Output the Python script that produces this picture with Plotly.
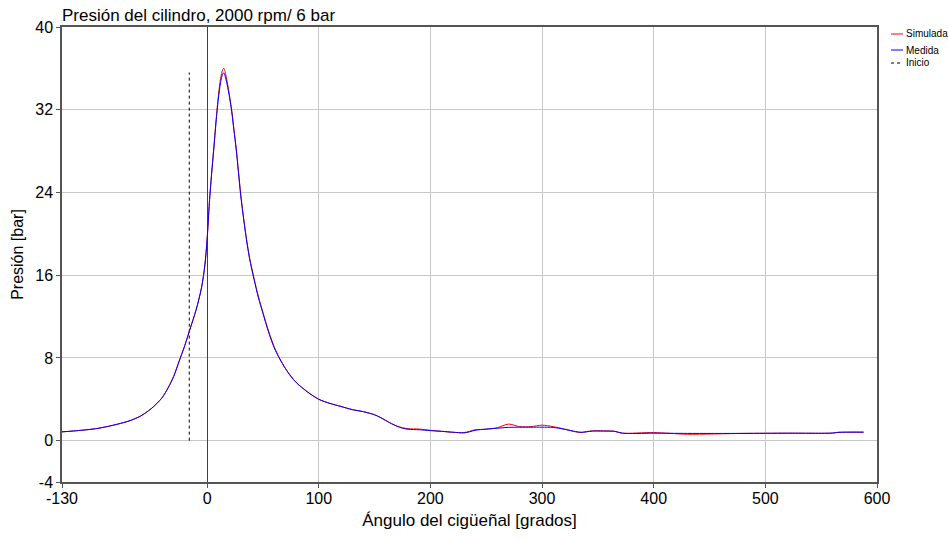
import plotly.graph_objects as go

# ---- data ----
angle = [-130, -120, -110, -100, -90, -80, -70, -60, -55, -50, -45, -40, -35, -30, -25, -20, -15, -10, -5, -2, 0,
         2, 4, 6, 8, 10, 12, 14, 15, 16, 18, 20, 22, 24, 26, 28, 30, 32, 35, 38, 42, 46, 50, 55,
         60, 65, 70, 75, 80, 90, 100, 110, 120, 130, 140, 150, 155, 160, 165, 170, 175, 180, 190,
         200, 210, 220, 230, 235, 240, 250, 260, 270, 280, 290, 300, 310, 320, 330, 335, 345, 355,
         365, 372, 400, 430, 480, 520, 560, 565, 588]

medida = [0.85, 0.93, 1.03, 1.15, 1.35, 1.6, 1.9, 2.35, 2.7, 3.1, 3.6, 4.2, 5.1, 6.2, 7.7, 9.2, 10.9, 12.6, 14.8, 17.0, 19.5,
          23.0, 25.8, 28.2, 30.8, 33.0, 34.6, 35.5, 35.55, 35.3, 34.4, 33.2, 31.8, 30.0, 28.2, 26.0, 23.8, 22.0, 19.6, 17.6, 15.6, 13.8, 12.3, 10.5,
          9.0, 7.9, 7.0, 6.2, 5.6, 4.7, 4.0, 3.6, 3.3, 3.0, 2.8, 2.5, 2.25, 1.95, 1.65, 1.4, 1.2, 1.1, 1.05,
          0.97, 0.9, 0.82, 0.75, 0.85, 1.0, 1.12, 1.2, 1.28, 1.3, 1.3, 1.3, 1.28, 1.1, 0.88, 0.8, 0.92, 0.92,
          0.9, 0.72, 0.72, 0.7, 0.7, 0.72, 0.73, 0.8, 0.82]

simulada = [0.85, 0.93, 1.03, 1.15, 1.35, 1.6, 1.9, 2.35, 2.7, 3.1, 3.6, 4.2, 5.1, 6.2, 7.7, 9.2, 10.9, 12.6, 14.8, 17.0, 19.5,
            23.0, 25.8, 28.4, 31.0, 33.3, 35.0, 35.9, 36.0, 35.7, 34.7, 33.4, 32.0, 30.1, 28.3, 26.1, 23.9, 22.1, 19.7, 17.7, 15.7, 13.9, 12.4, 10.6,
            9.1, 7.95, 7.0, 6.25, 5.6, 4.7, 4.0, 3.6, 3.3, 3.0, 2.8, 2.5, 2.25, 1.95, 1.65, 1.4, 1.25, 1.15, 1.12,
            1.0, 0.9, 0.8, 0.78, 0.9, 1.05, 1.1, 1.25, 1.6, 1.35, 1.35, 1.5, 1.35, 1.12, 0.85, 0.8, 0.95, 0.95,
            0.9, 0.72, 0.78, 0.62, 0.7, 0.72, 0.73, 0.8, 0.82]

inicio_x = [-16, -16]
inicio_y = [0, 35.6]

x_ticks = [-130, 0, 100, 200, 300, 400, 500, 600]
y_ticks = [-4, 0, 8, 16, 24, 32, 40]

FONT = "Liberation Sans, Arial, sans-serif"

fig = go.Figure()
fig.add_trace(go.Scatter(x=inicio_x, y=inicio_y, mode="lines", name="Inicio",
                         line=dict(color="black", width=1, dash="dot"), showlegend=False))
fig.add_trace(go.Scatter(x=angle, y=simulada, mode="lines", name="Simulada",
                         line=dict(color="#ff0000", width=1, shape="spline", smoothing=0.8), showlegend=False))
fig.add_trace(go.Scatter(x=angle, y=medida, mode="lines", name="Medida",
                         line=dict(color="#0000ff", width=1, shape="spline", smoothing=0.8), showlegend=False))

# manual legend (short line samples, as in the reference)
legend_items = [("Simulada", "#ff0000", "solid", 34), ("Medida", "#0000ff", "solid", 50), ("Inicio", "black", "dot", 63)]
for name, col, dash, ypx in legend_items:
    yp = 1 - (ypx - 27) / 455
    fig.add_shape(type="line", xref="paper", yref="paper",
                  x0=(891 - 62) / 815, x1=(903 - 62) / 815, y0=yp, y1=yp,
                  line=dict(color=col, width=1, dash=dash))
    fig.add_annotation(text=name, xref="paper", yref="paper", x=(904 - 62) / 815, y=yp,
                       xanchor="left", yanchor="middle", showarrow=False,
                       font=dict(family=FONT, size=10, color="black"))

fig.update_layout(
    width=948, height=540,
    margin=dict(l=62, r=71, t=27, b=58),
    paper_bgcolor="white", plot_bgcolor="white",
    font=dict(family=FONT, size=16, color="black"),
    title=dict(text="Presión del cilindro, 2000 rpm/ 6 bar", x=62 / 948, xanchor="left",
               y=1 - 15 / 540, yanchor="middle", font=dict(family=FONT, size=17, color="black")),
    showlegend=False,
)
fig.update_xaxes(range=[-130, 600], tickvals=x_ticks, ticktext=[str(v) for v in x_ticks],
                 showgrid=True, gridcolor="#c8c8c8", gridwidth=1,
                 zeroline=True, zerolinecolor="#404040", zerolinewidth=1,
                 showline=True, linecolor="#555555", linewidth=1.5, mirror=True,
                 ticks="outside", ticklen=4, tickcolor="#555555", ticklabelstandoff=-3,
                 title=dict(text="Ángulo del cigüeñal [grados]", font=dict(family=FONT, size=17), standoff=8))
fig.update_yaxes(range=[-4, 40], tickvals=y_ticks, ticktext=[str(v) for v in y_ticks],
                 showgrid=True, gridcolor="#c8c8c8", gridwidth=1, zeroline=False,
                 showline=True, linecolor="#555555", linewidth=1.5, mirror=True,
                 ticks="outside", ticklen=4, tickcolor="#555555",
                 title=dict(text="Presión [bar]", font=dict(family=FONT, size=16), standoff=8))

fig.write_html("out.html")
